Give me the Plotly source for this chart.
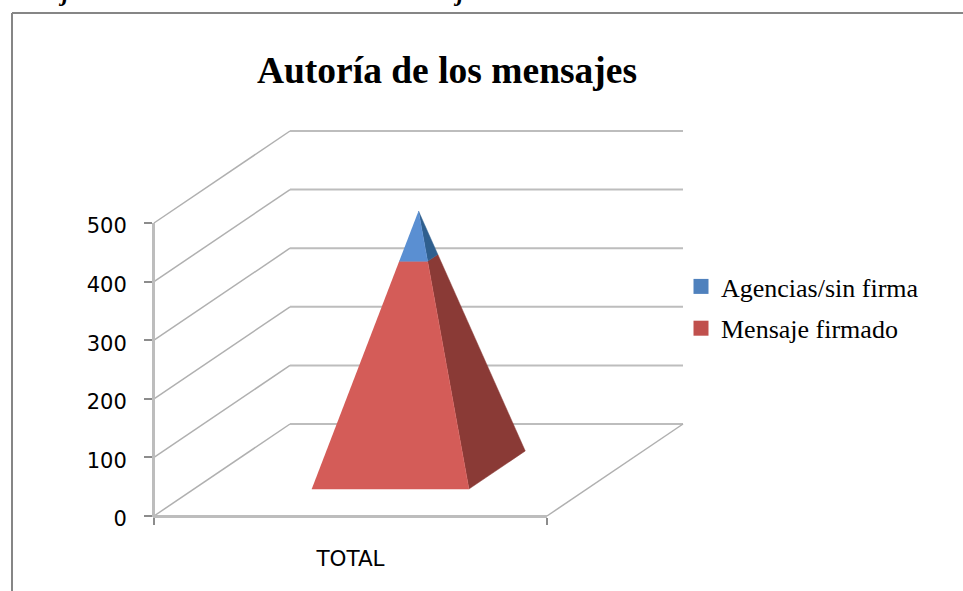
import plotly.graph_objects as go

# values
categories = ["TOTAL"]
series_names = ["Agencias/sin firma", "Mensaje firmado"]
agencias = [80]
firmado = [362]
y_ticks = [0, 100, 200, 300, 400, 500]

BLUE, BLUE_DARK, BLUE_KEY = "#5A8FD2", "#2F5F8E", "#4F81BD"
RED, RED_DARK, RED_KEY = "#D45C58", "#8A3A36", "#C0504D"
GRID = "#B0B0B0"
AXIS = "#BDBDBD"

W, H = 963, 591
L, R, T, B = 153, 684, 130, 517

# oblique projection of the 3d box: depth z (0..1) shifts x and value
X_PER_PX = 1 / 393
Y_PER_PX = 100 / 58.6
DX = 136 * X_PER_PX
DY = 92 * Y_PER_PX
HALF_W = 0.2
HALF_D = 0.207
PAD_X = X_PER_PX  # one pixel of room so the axis lines stay inside the viewport
PAD_Y = Y_PER_PX


def proj(x, v, z):
    return x + DX * z, v + DY * z


def px_x(p):
    return (p - L) / (R - L)


def px_y(p):
    return (B - p) / (B - T)


def line(fig, pts, color=GRID, width=1.6):
    fig.add_trace(go.Scatter(x=[p[0] for p in pts], y=[p[1] for p in pts], mode="lines",
                             line=dict(color=color, width=width), cliponaxis=False,
                             showlegend=False, hoverinfo="skip"))


def band(fig, lo, hi, total, cx, edge, color):
    # one face of the pyramid between value lo and hi, narrowing to the apex
    zc = 0.5
    def pt(xf, zf, v):
        t = v / total
        return proj(cx + (xf - cx) * (1 - t), v, zc + (zf - zc) * (1 - t))
    xa, za, xb, zb = edge
    pts = [pt(xa, za, lo), pt(xb, zb, lo), pt(xb, zb, hi), pt(xa, za, hi)]
    fig.add_trace(go.Scatter(x=[p[0] for p in pts], y=[p[1] for p in pts], mode="lines",
                             fill="toself", fillcolor=color, line=dict(color=color, width=0.5),
                             cliponaxis=False, showlegend=False, hoverinfo="skip"))


fig = go.Figure()

# walls and floor
for v in y_ticks:
    a = proj(0, v, 0)
    b = proj(0, v, 1)
    c = proj(1, v, 1)
    line(fig, [a, b], width=1.5)
    line(fig, [b, c], color="#BDBDBD", width=2)
line(fig, [proj(1, 0, 0), proj(1, 0, 1)], width=1.5)

# the stacked pyramid
total = firmado[0] + agencias[0]
cx = 0.5
front = (cx - HALF_W, 0.5 - HALF_D, cx + HALF_W, 0.5 - HALF_D)
side = (cx + HALF_W, 0.5 - HALF_D, cx + HALF_W, 0.5 + HALF_D)
band(fig, 0, firmado[0], total, cx, side, RED_DARK)
band(fig, 0, firmado[0], total, cx, front, RED)
band(fig, firmado[0], total, total, cx, side, BLUE_DARK)
band(fig, firmado[0], total, total, cx, front, BLUE)

# legend keys
for name, col in zip(series_names, [BLUE_KEY, RED_KEY]):
    fig.add_trace(go.Scatter(x=[None], y=[None], mode="markers", name=name, legendgroup=name,
                             marker=dict(symbol="square", size=15, color=col)))

fig.update_layout(
    width=W, height=H, margin=dict(l=L, r=W - R, t=T, b=H - B),
    paper_bgcolor="white", plot_bgcolor="white",
    title=dict(text="<b>Autoría de los mensajes</b>", x=447 / W, xanchor="center",
               y=1 - 70 / H, yanchor="middle",
               font=dict(family="Liberation Serif", size=37.5, color="black")),
    xaxis=dict(range=[-PAD_X, (R - L - 1) * X_PER_PX], showgrid=False, zeroline=False,
               showline=False, tickmode="array", tickvals=[0.5], ticktext=categories, ticks="",
               ticklabelstandoff=26, tickfont=dict(family="DejaVu Sans", size=21.5, color="black"),
               minor=dict(tickmode="array", tickvals=[0, 1], ticks="outside", ticklen=7,
                          tickcolor="#8C8C8C", tickwidth=1.5, showgrid=False)),
    yaxis=dict(range=[-PAD_Y, (B - T - 1) * Y_PER_PX], showgrid=False, zeroline=False,
               showline=False, tickmode="array", tickvals=y_ticks, ticks="outside", ticklen=8,
               tickcolor="#8C8C8C", tickwidth=1.5, ticklabelstandoff=13, ticklabelshift=3,
               tickfont=dict(family="DejaVu Sans", size=21, color="black")),
    legend=dict(x=px_x(681), y=px_y(263), xanchor="left", yanchor="top", tracegroupgap=5,
                font=dict(family="Liberation Serif", size=26, color="black"),
                bgcolor="rgba(0,0,0,0)"),
    shapes=[dict(type="line", xref="paper", yref="paper", x0=px_x(12), x1=px_x(12),
                 y0=px_y(H), y1=px_y(13), line=dict(color="#868686", width=2)),
            dict(type="line", xref="paper", yref="paper", x0=px_x(12), x1=px_x(963),
                 y0=px_y(13), y1=px_y(13), line=dict(color="#868686", width=2)),
            # thick axis lines of the front plane
            dict(type="line", xref="paper", yref="paper", x0=px_x(153.5), x1=px_x(153.5),
                 y0=px_y(517), y1=px_y(223), line=dict(color=AXIS, width=3)),
            dict(type="line", xref="paper", yref="paper", x0=px_x(153), x1=px_x(547),
                 y0=px_y(516.5), y1=px_y(516.5), line=dict(color=AXIS, width=3))],
    # descenders of the caption cut off above the frame
    annotations=[dict(text="<b><i>j</i></b>", xref="paper", yref="paper", x=px_x(px),
                      y=px_y(-7), xanchor="center", yanchor="middle", showarrow=False,
                      font=dict(family="Liberation Serif", size=24, color="black"))
                 for px in (63, 458)],
)

fig.write_html("out.html", config=dict(displayModeBar=False),
               post_script="document.body.style.margin='0';")
